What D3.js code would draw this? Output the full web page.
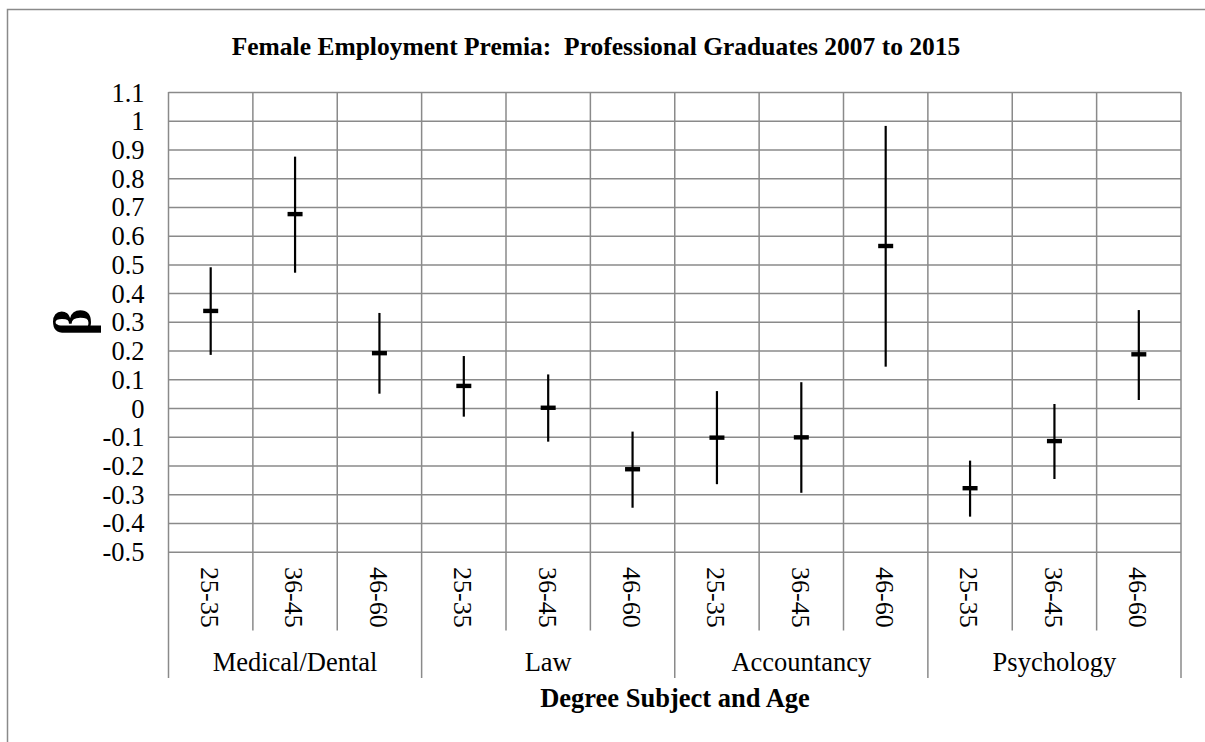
<!DOCTYPE html>
<html>
<head>
<meta charset="utf-8">
<script src="https://cdn.jsdelivr.net/npm/d3@7"></script>
<style>
  body { margin: 0; background: #fff; }
  svg { display: block; font-family: "Times New Roman", "Liberation Serif", serif; }
</style>
</head>
<body>
<div id="chart"></div>
<script>
// categories
const subjects = ["Medical/Dental", "Law", "Accountancy", "Psychology"];
const ages = ["25-35", "36-45", "46-60"];
// point estimates and confidence bounds, in subject/age order
const beta = [0.338, 0.675, 0.191, 0.077, 0.001, -0.213, -0.103, -0.102, 0.564, -0.279, -0.115, 0.187];
const upper = [0.49, 0.875, 0.331, 0.181, 0.117, -0.082, 0.059, 0.09, 0.982, -0.183, 0.014, 0.341];
const lower = [0.185, 0.471, 0.05, -0.03, -0.117, -0.347, -0.265, -0.295, 0.144, -0.378, -0.247, 0.028];
const yTicks = [-0.5, -0.4, -0.3, -0.2, -0.1, 0, 0.1, 0.2, 0.3, 0.4, 0.5, 0.6, 0.7, 0.8, 0.9, 1, 1.1];

function draw() {
  const W = 1205, H = 742;
  const m = { left: 168.5, right: 1181, top: 92, bottom: 551.7 };
  const grid = "#8a8a8a";
  const serif = "'Times New Roman', 'Liberation Serif', serif";
  const fs = 26.5;

  const data = [];
  subjects.forEach((s, i) => ages.forEach((a, j) => {
    const k = i * ages.length + j;
    data.push({ key: s + "|" + a, subject: s, age: a, b: beta[k], hi: upper[k], lo: lower[k] });
  }));

  const svg = d3.select("#chart").append("svg")
    .attr("width", W).attr("height", H);

  // outer chart frame
  svg.append("rect")
    .attr("x", 7.5).attr("y", 9.5)
    .attr("width", W + 20).attr("height", H + 20)
    .attr("fill", "#fff").attr("stroke", grid).attr("stroke-width", 1.5);

  const x = d3.scaleBand()
    .domain(data.map(d => d.key))
    .range([m.left, m.right]);

  const y = d3.scaleLinear()
    .domain([-0.5, 1.1])
    .range([m.bottom, m.top]);

  // horizontal gridlines + tick labels
  const yAxis = svg.append("g")
    .attr("transform", `translate(${m.left},0)`)
    .call(d3.axisLeft(y).tickValues(yTicks).tickSize(-(m.right - m.left)).tickPadding(24).tickFormat(d => String(d)));
  yAxis.attr("font-family", null).attr("font-size", null);
  yAxis.select(".domain").remove();
  yAxis.selectAll(".tick line").attr("stroke", grid).attr("stroke-width", 1.5);
  yAxis.selectAll(".tick text")
    .attr("fill", "#000")
    .attr("dy", "0.34em")
    .style("font-size", fs + "px")
    .style("font-family", serif);

  // vertical category boundaries
  const bounds = d3.range(data.length + 1);
  svg.append("g").selectAll("line")
    .data(bounds)
    .join("line")
    .attr("x1", i => i < data.length ? x(data[i].key) : m.right)
    .attr("x2", i => i < data.length ? x(data[i].key) : m.right)
    .attr("y1", m.top)
    .attr("y2", i => i % ages.length === 0 ? 678 : 630.5)
    .attr("stroke", grid)
    .attr("stroke-width", 1.5);

  // age labels (rotated)
  svg.append("g").selectAll("text")
    .data(data)
    .join("text")
    .attr("transform", d => `translate(${x(d.key) + x.bandwidth() / 2 - 1},567) rotate(90)`)
    .attr("dy", "0.33em")
    .style("font-size", "26px")
    .style("font-family", serif)
    .text(d => d.age);

  // subject labels
  svg.append("g").selectAll("text")
    .data(subjects)
    .join("text")
    .attr("x", s => (x(s + "|" + ages[0]) + x(s + "|" + ages[2]) + x.bandwidth()) / 2)
    .attr("y", 670.5)
    .attr("text-anchor", "middle")
    .style("font-size", fs + "px")
    .style("font-family", serif)
    .text(s => s);

  // error bars
  svg.append("g").selectAll("line")
    .data(data)
    .join("line")
    .attr("x1", d => x(d.key) + x.bandwidth() / 2)
    .attr("x2", d => x(d.key) + x.bandwidth() / 2)
    .attr("y1", d => y(d.hi))
    .attr("y2", d => y(d.lo))
    .attr("stroke", "#000")
    .attr("stroke-width", 2.2);

  // point estimate markers
  svg.append("g").selectAll("rect")
    .data(data)
    .join("rect")
    .attr("x", d => x(d.key) + x.bandwidth() / 2 - 7.5)
    .attr("y", d => y(d.b) - 2.2)
    .attr("width", 15)
    .attr("height", 4.4)
    .attr("fill", "#000");

  // titles
  svg.append("text")
    .attr("x", 596).attr("y", 55)
    .attr("text-anchor", "middle")
    .style("font-size", "25.5px").style("font-weight", "bold")
    .style("white-space", "pre")
    .text("Female Employment Premia:  Professional Graduates 2007 to 2015");

  svg.append("text")
    .attr("x", 675).attr("y", 707)
    .attr("text-anchor", "middle")
    .style("font-size", "26.5px").style("font-weight", "bold")
    .text("Degree Subject and Age");

  svg.append("text")
    .attr("transform", "translate(74,322) rotate(-90)")
    .attr("text-anchor", "middle")
    .attr("dy", "0.3em")
    .style("font-size", "52px").style("font-weight", "bold")
    .text("β");
}

window.onload = function () {
  draw();
};
</script>
</body>
</html>
